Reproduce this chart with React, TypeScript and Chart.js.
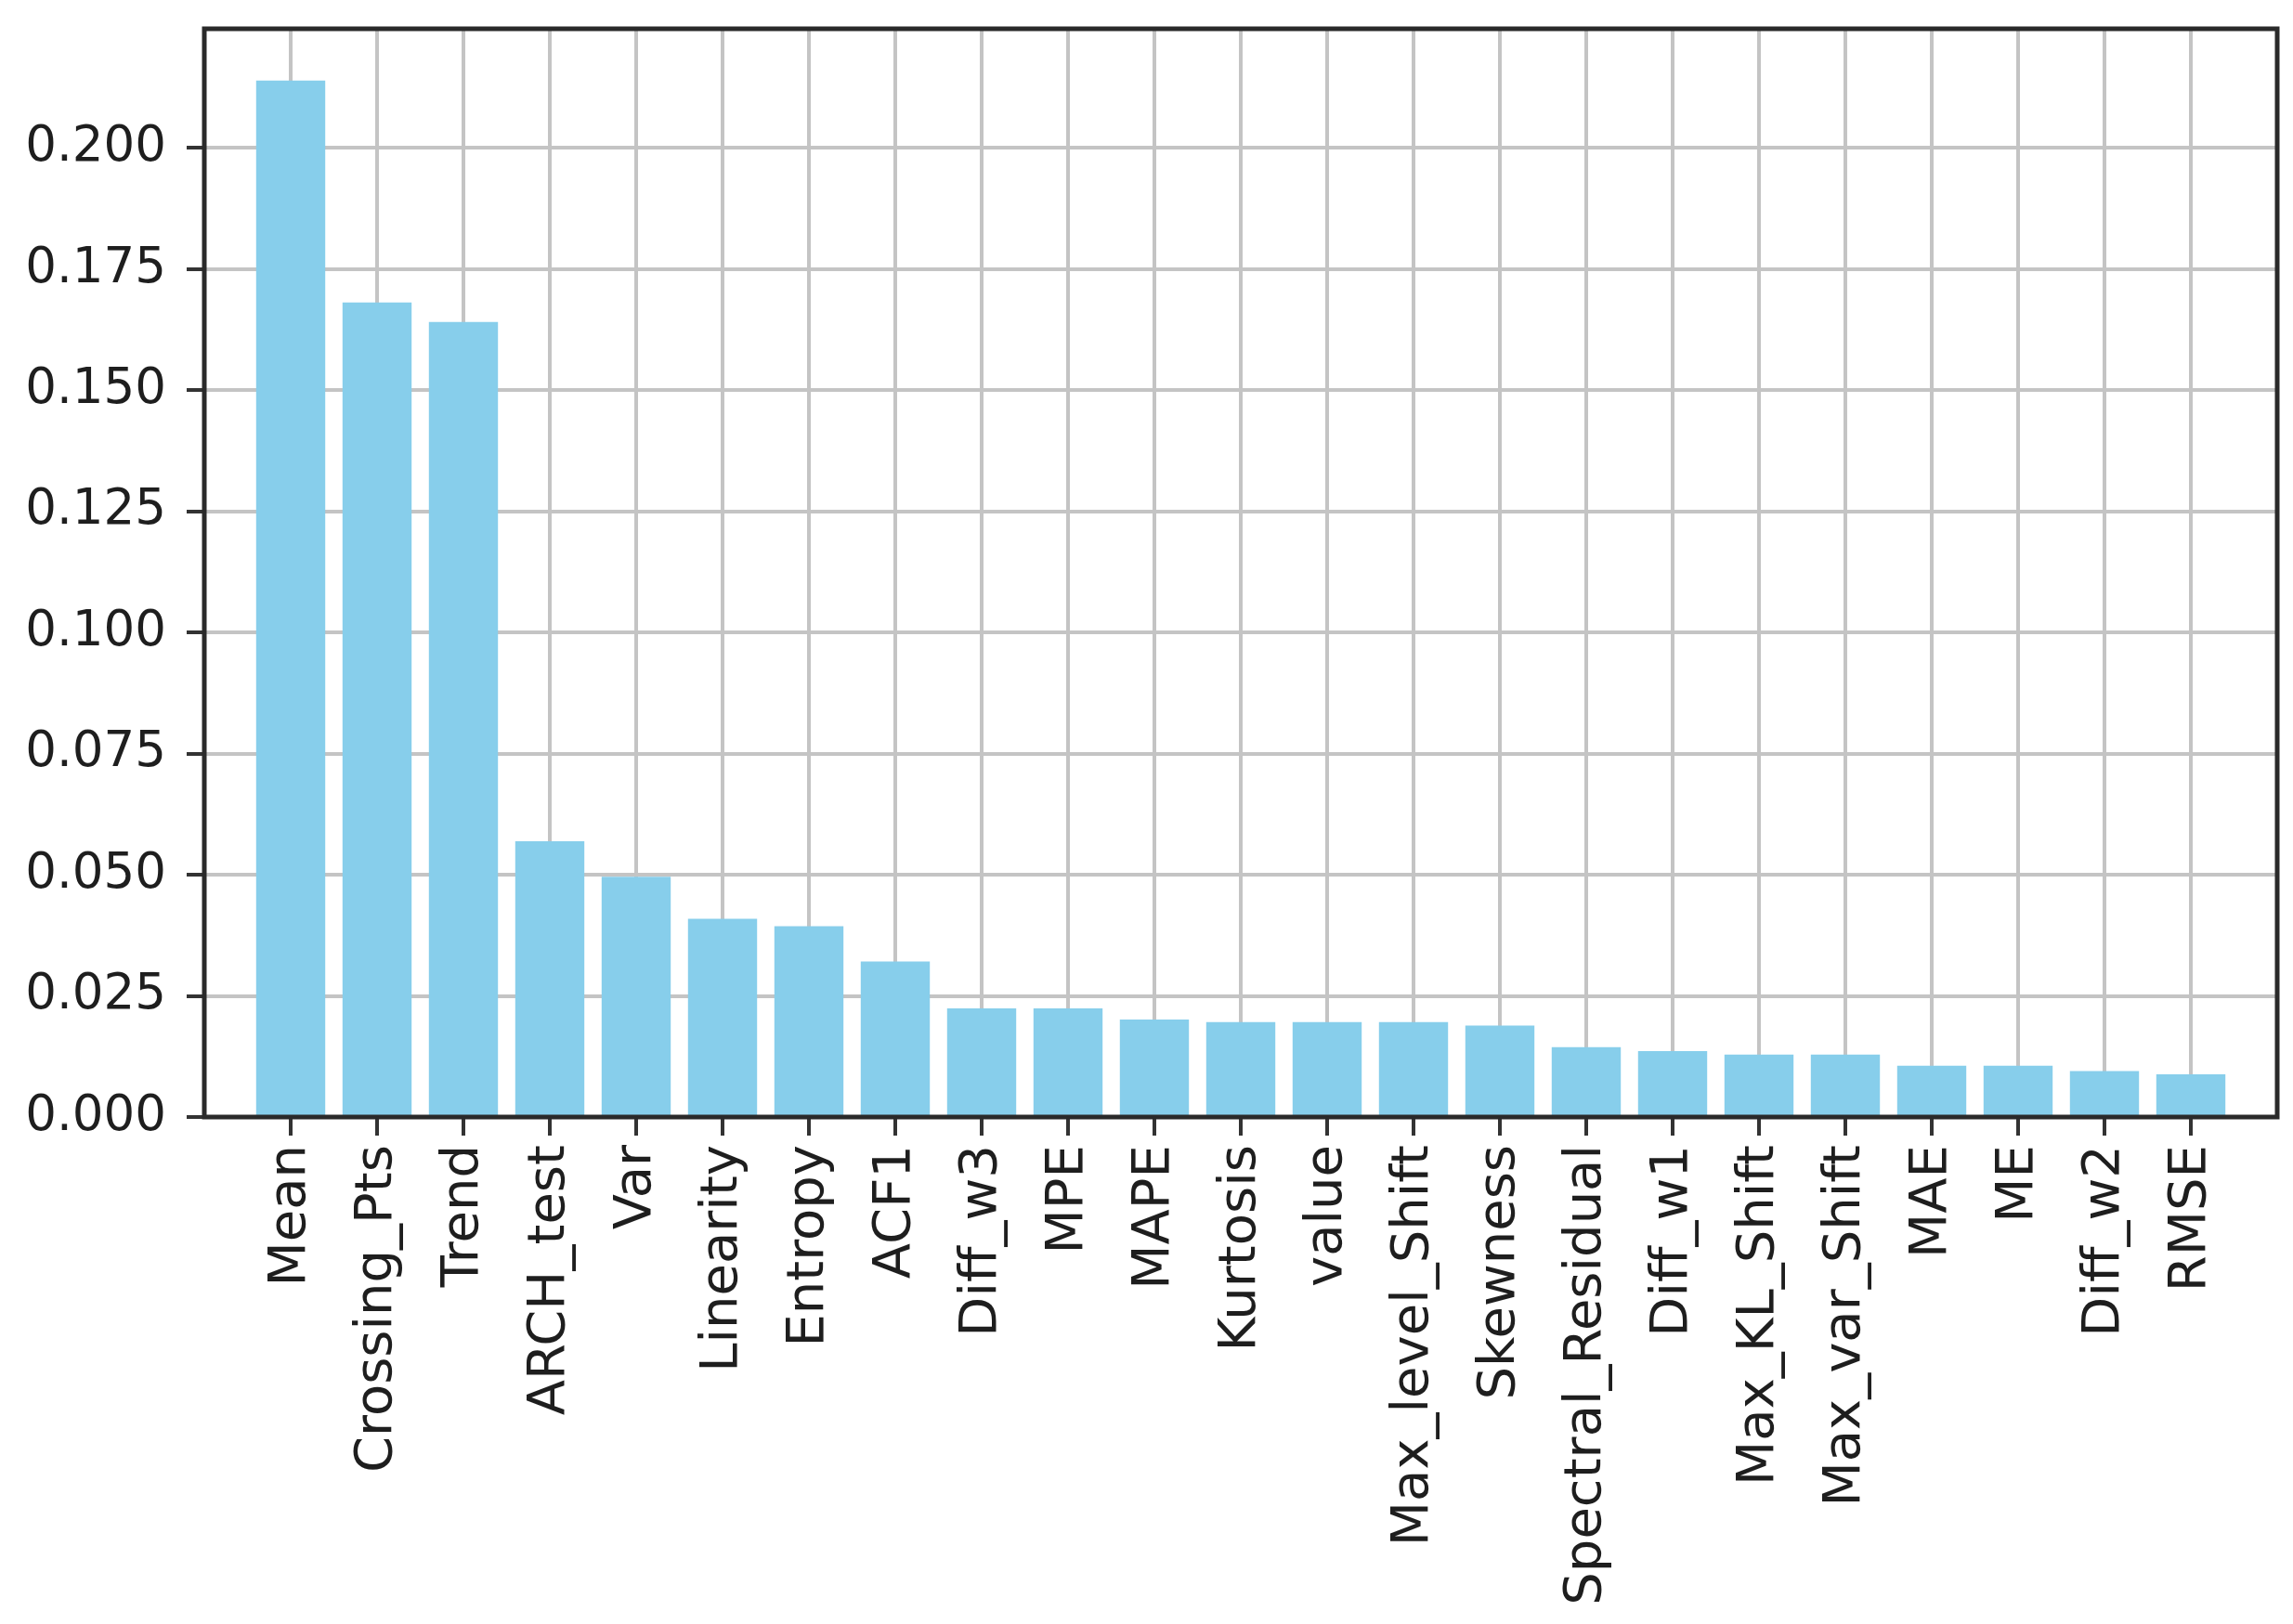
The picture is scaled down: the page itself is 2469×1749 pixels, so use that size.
import React, { useEffect, useRef } from "react";
import { Chart, registerables } from "chart.js";

Chart.register(...registerables);

const featureNames: string[] = [
  "Mean", "Crossing_Pts", "Trend", "ARCH_test", "Var", "Linearity", "Entropy", "ACF1",
  "Diff_w3", "MPE", "MAPE", "Kurtosis", "value", "Max_level_Shift", "Skewness",
  "Spectral_Residual", "Diff_w1", "Max_KL_Shift", "Max_var_Shift", "MAE", "ME", "Diff_w2", "RMSE",
];

const importances: number[] = [
  0.2139, 0.1681, 0.1641, 0.0569, 0.0496, 0.0409, 0.0394, 0.0321,
  0.0224, 0.0224, 0.0201, 0.0196, 0.0196, 0.0196, 0.0189,
  0.0144, 0.0136, 0.0129, 0.0129, 0.0106, 0.0106, 0.0095, 0.0088,
];

const yTickValues: number[] = [0, 0.025, 0.05, 0.075, 0.1, 0.125, 0.15, 0.175, 0.2];
const yMax = 0.2246;

const W = 2469;
const H = 1749;
const FONT = "'DejaVu Sans', 'Liberation Sans', sans-serif";

const framePlugin = {
  id: "frame",
  afterDraw(chart: any) {
    const { ctx, chartArea } = chart;
    ctx.save();
    ctx.strokeStyle = "#2a2a2a";
    ctx.lineWidth = 5;
    ctx.strokeRect(chartArea.left, chartArea.top, chartArea.right - chartArea.left, chartArea.bottom - chartArea.top);
    ctx.restore();
  },
};

export default function App() {
  const ref = useRef<HTMLCanvasElement | null>(null);
  useEffect(() => {
    if (!ref.current) return;
    const chart = new Chart(ref.current, {
      type: "bar",
      data: {
        datasets: [
          {
            data: featureNames.map((_, i) => ({ x: i, y: importances[i] })),
            backgroundColor: "#87CEEB",
            borderWidth: 0,
            categoryPercentage: 0.8,
            barPercentage: 1,
          },
        ],
      },
      options: {
        animation: false,
        responsive: false,
        devicePixelRatio: 1,
        layout: { padding: { top: 31, right: 17, left: 0, bottom: 0 } },
        plugins: { legend: { display: false }, tooltip: { enabled: false } },
        scales: {
          x: {
            type: "linear",
            min: -1,
            max: 23,
            offset: false,
            z: 1,
            afterBuildTicks: (scale: any) => {
              scale.ticks = featureNames.map((_, i) => ({ value: i }));
            },
            afterFit: (scale: any) => {
              scale.height = 546;
              scale.paddingLeft = 0;
              scale.paddingRight = 0;
            },
            ticks: {
              autoSkip: false,
              maxRotation: 90,
              minRotation: 90,
              padding: 10,
              color: "#1e1e1e",
              font: { family: FONT, size: 56 },
              callback: (v: any) => featureNames[Math.round(Number(v))] ?? "",
            },
            grid: {
              offset: false,
              color: "#c4c4c4",
              lineWidth: 4,
              drawTicks: true,
              tickLength: 20,
              tickColor: "#333",
              tickWidth: 4,
            },
            border: { display: false },
          },
          y: {
            type: "linear",
            min: 0,
            max: yMax,
            z: 1,
            afterBuildTicks: (scale: any) => {
              scale.ticks = yTickValues.map((v) => ({ value: v }));
            },
            afterFit: (scale: any) => {
              scale.width = 220;
              scale.paddingTop = 0;
              scale.paddingBottom = 0;
            },
            ticks: {
              padding: 22,
              color: "#1e1e1e",
              font: { family: FONT, size: 53 },
              callback: (v: any) => Number(v).toFixed(3),
            },
            grid: {
              color: "#c4c4c4",
              lineWidth: 4,
              drawTicks: true,
              tickLength: 19,
              tickColor: "#333",
              tickWidth: 4,
            },
            border: { display: false },
          },
        },
      },
      plugins: [framePlugin],
    } as any);
    return () => chart.destroy();
  }, []);
  return (
    <div style={{ position: "absolute", left: 0, top: 0, width: W, height: H, background: "#fff" }}>
      <canvas ref={ref} width={W} height={H} style={{ width: W, height: H, display: "block" }} />
    </div>
  );
}
